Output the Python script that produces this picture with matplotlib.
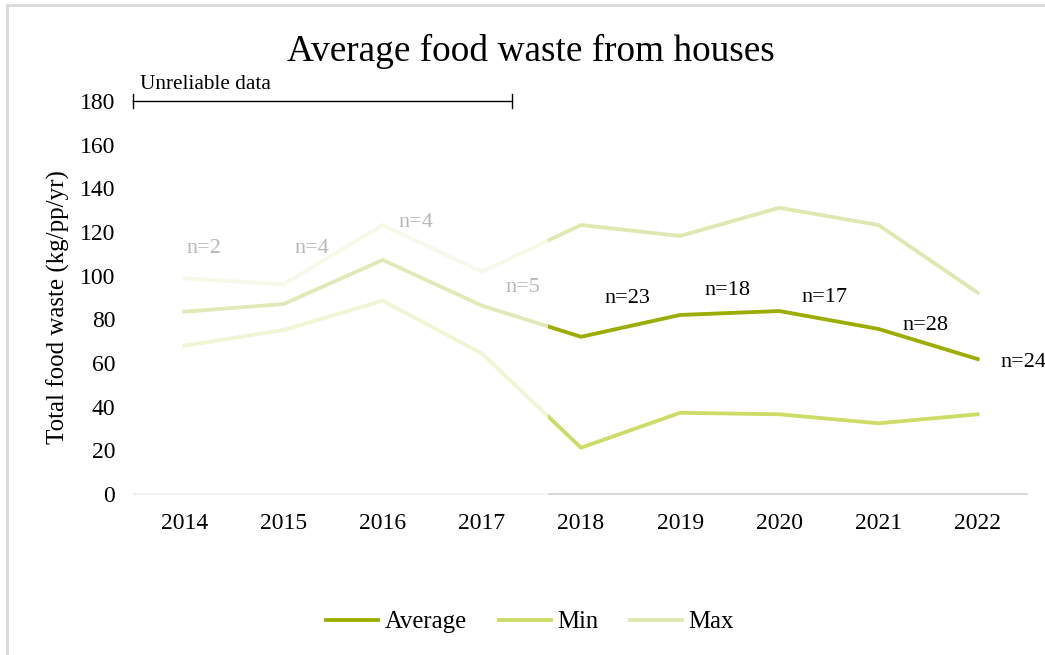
import matplotlib
matplotlib.use("Agg")
import matplotlib.pyplot as plt
from matplotlib.patches import Rectangle

plt.rcParams['font.family'] = ['Liberation Serif', 'DejaVu Serif']

years = ['2014', '2015', '2016', '2017', '2018', '2019', '2020', '2021', '2022']
average = [83.5, 87.0, 107.2, 86.3, 72.0, 82.0, 83.8, 75.6, 61.8]
minimum = [67.9, 75.1, 88.5, 64.4, 21.2, 37.2, 36.5, 32.4, 36.5]
maximum = [98.8, 96.0, 123.2, 101.8, 123.2, 118.2, 131.1, 123.2, 92.2]
samples = ['n=2', 'n=4', 'n=4', 'n=5', 'n=23', 'n=18', 'n=17', 'n=28', 'n=24']

# label offsets in points (dx, dy) from each average point, text baseline
label_offsets = [(14.4, 42.5), (20.2, 36.7), (23.8, 23.8), (29.5, 10.1), (33.1, 24.5),
                 (33.8, 14.4), (32.4, 6.5), (33.8, -0.7), (33.1, -5.8)]

c_avg = '#9bad00'
c_min = '#ccdc66'
c_max = '#dfe8b0'

fig = plt.figure(figsize=(10.45, 6.55), dpi=100)
ax = fig.add_axes([0.129, 0.2458, 0.854, 0.6])

x = range(len(years))
ax.plot(x, average, color=c_avg, lw=2.75, label='Average', zorder=3)
ax.plot(x, minimum, color=c_min, lw=2.75, label='Min', zorder=3)
ax.plot(x, maximum, color=c_max, lw=2.75, label='Max', zorder=3)

for i, (v, s) in enumerate(zip(average, samples)):
    ax.annotate(s, (i, v), xytext=label_offsets[i], textcoords='offset points',
                ha='center', va='baseline', fontsize=16, color='black',
                annotation_clip=False, zorder=4)

ax.set_xlim(-0.5, 8.5)
ax.set_ylim(0, 180)
ax.set_yticks(range(0, 181, 20))
ax.set_xticks(list(x))
ax.set_xticklabels(years)
ax.tick_params(length=0, labelsize=17, colors='black')
ax.tick_params(axis='x', pad=14)
ax.tick_params(axis='y', pad=14)
for side in ['top', 'right', 'left']:
    ax.spines[side].set_visible(False)
ax.spines['bottom'].set_color('#d9d9d9')
ax.spines['bottom'].set_linewidth(1.5)

fig.text(58 / 1045, 1 - 307 / 655, 'Total food waste (kg/pp/yr)', rotation=90,
         ha='center', va='center', fontsize=18)
fig.text(531 / 1045, 0.922, 'Average food waste from houses', ha='center', va='center', fontsize=26.8)

# washed-out band over the early years
ax.add_patch(Rectangle((-0.5, -2), 0.5 + 3.667, 150, facecolor='white', alpha=0.72,
                       edgecolor='none', zorder=5, clip_on=False))

# bracket for the unreliable period
ax.plot([-0.52, 3.3], [180, 180], color='black', lw=1, clip_on=False, zorder=6)
for bx in [-0.52, 3.3]:
    ax.plot([bx, bx], [176.8, 183.2], color='black', lw=1, clip_on=False, zorder=6)
ax.text(-0.45, 185.5, 'Unreliable data', fontsize=15.3, ha='left', va='baseline', zorder=6)

fig.legend(loc='center', bbox_to_anchor=(530 / 1045, 0.05), ncol=3, frameon=False,
           fontsize=17.8, handlelength=2.1, columnspacing=1.3, handletextpad=0.25)

# outer chart border
fig.patches.append(Rectangle((7 / 1045, -0.1), 1.2, 1.1 - 5 / 655, transform=fig.transFigure,
                             facecolor='none', edgecolor='#d9d9d9', lw=2, zorder=0))

fig.savefig('out.png', dpi=100)
